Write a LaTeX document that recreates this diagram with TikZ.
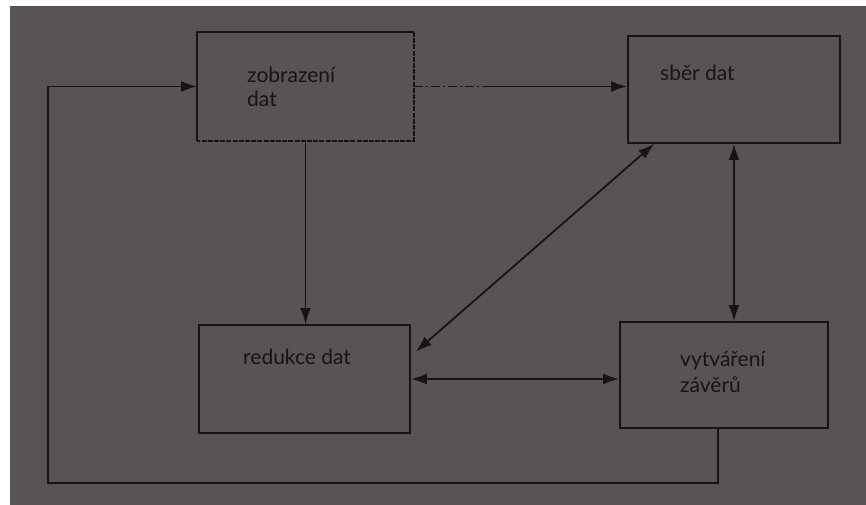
\documentclass[tikz,border=0pt]{standalone}
\usepackage{fontspec}
\setmainfont{Lato}
\usetikzlibrary{arrows.meta,calc}
\definecolor{paper}{RGB}{88,83,85}
\definecolor{ink}{RGB}{24,20,22}
\begin{document}
\begin{tikzpicture}[x=1pt,y=-1pt,
  box/.style={draw=ink,line width=1.8pt,minimum width=#1,inner sep=0pt},
  lbl/.style={text=ink,font=\fontsize{21}{25}\selectfont,anchor=base west,inner sep=0pt},
  con/.style={draw=ink,line width=1.8pt,-{Latex[length=16pt,width=11pt]}},
  bicon/.style={draw=ink,line width=1.8pt,{Latex[length=16pt,width=11pt]}-{Latex[length=16pt,width=11pt]}}]
\useasboundingbox (0,0) rectangle (866,505);
\fill[white] (0,0) rectangle (866,505);
\fill[paper] (10,6) rectangle (866,505);
% boxes
\node[box=215pt,minimum height=107pt,draw=none] (z) at (305.5,86.5) {};
\draw[ink,line width=1.8pt] (z.south west) -- (z.north west) -- (z.north east);
\draw[ink,line width=1.8pt,dash pattern=on 5pt off 1.2pt] (z.north east) -- (z.south east) -- (z.south west);
\node[box=212pt,minimum height=107pt] (s) at (734,89.5) {};
\node[box=211pt,minimum height=108pt] (r) at (304.5,379) {};
\node[box=208pt,minimum height=106pt] (v) at (724,375) {};
% labels
\node[lbl] (zt1) at (247,83) {zobrazení};
\node[lbl] (zt2) at (247,107) {dat};
\node[lbl] (st) at (660,81) {sběr dat};
\node[lbl] (rt) at (243,364) {redukce dat};
\node[lbl] (vt1) at (680,366) {vytváření};
\node[lbl] (vt2) at (680,392) {závěrů};
% connectors
\coordinate (zmid) at ($(z.east)!0.35!(z.east -| s.west)$);
\draw[ink,line width=1.8pt,dash pattern=on 9pt off 3pt on 2pt off 3pt] (z.east) -- (zmid);
\draw[con] (zmid) -- (z.east -| s.west);
\draw[con] (z.south) -- (z.south |- r.north);
\draw[bicon] ([xshift=5pt]$(r.north east)!0.5!(r.east)$) -- ([xshift=27pt]s.south west);
\draw[bicon] (s.south) -- (s.south |- v.north);
\draw[bicon] (r.east) -- (r.east -| v.west);
\coordinate (loopbl) at (48,483);
\draw[con] ([xshift=-6pt]v.south) |- (loopbl) |- (z.west);
\end{tikzpicture}
\end{document}
